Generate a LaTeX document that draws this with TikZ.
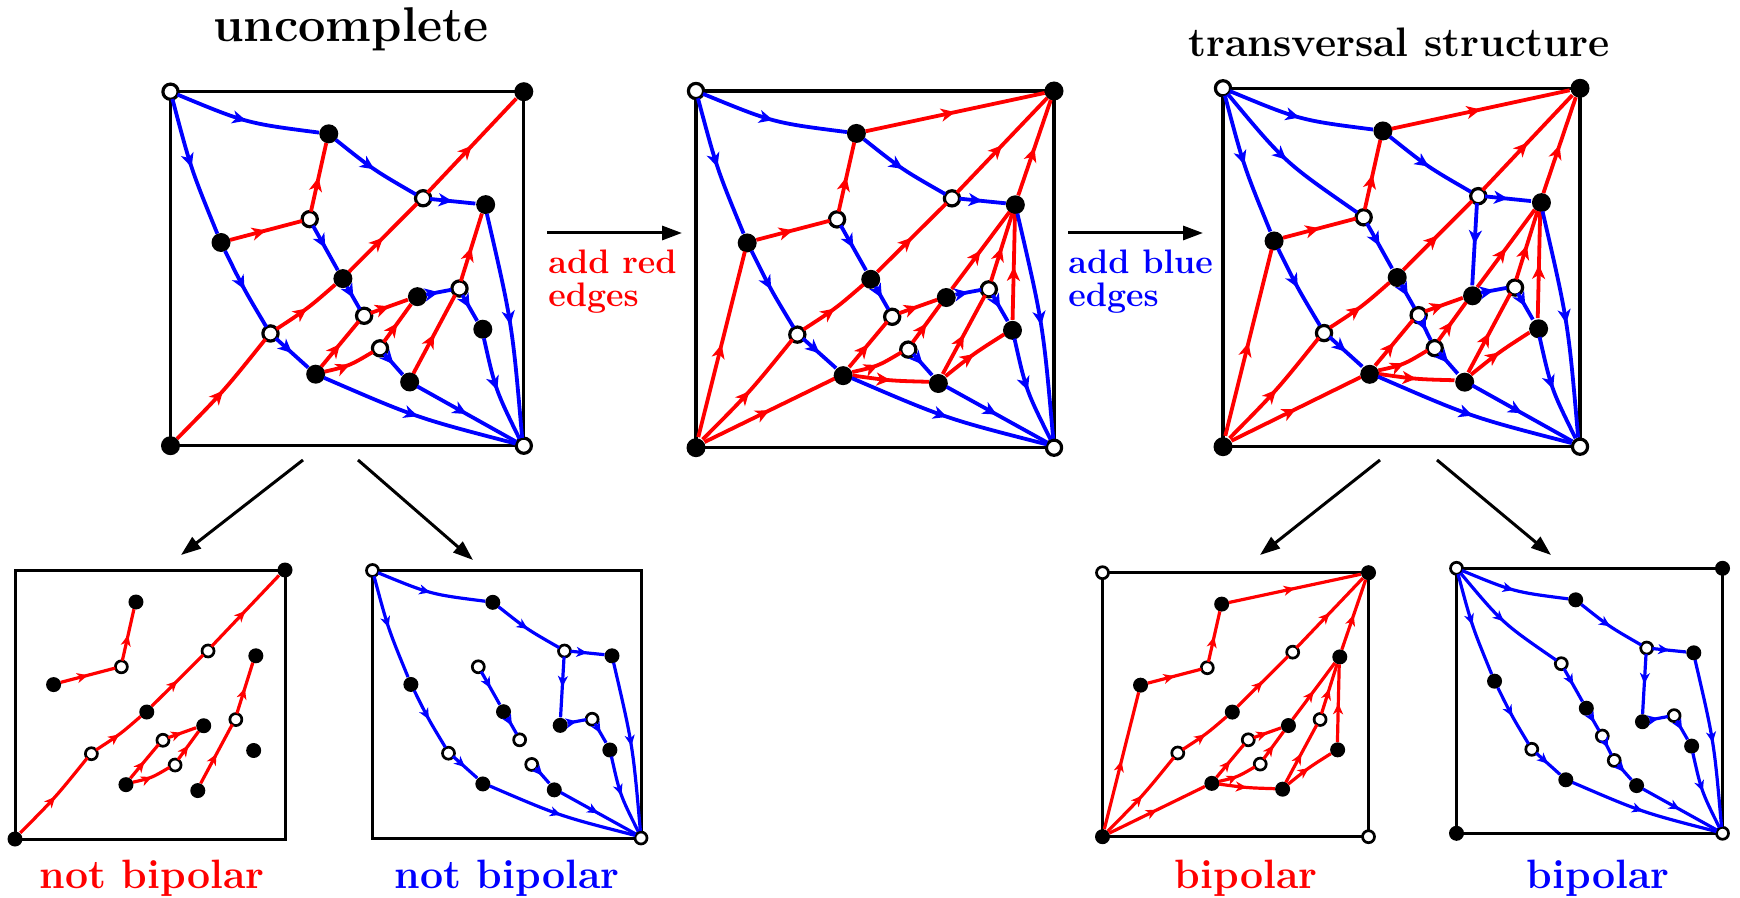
\documentclass[tikz,border=0pt]{standalone}
\usetikzlibrary{arrows.meta,decorations.markings,calc}
\def\ew{1.9pt}\def\arl{7pt}\def\arw{6.5pt}\def\ari{2pt}
\tikzset{
  re/.style={red, line width=\ew, postaction={decorate},
    decoration={markings, mark=at position 0.5 with {\arrow{Stealth[length=\arl,width=\arw,inset=\ari]}}}},
  be/.style={blue, line width=\ew, postaction={decorate},
    decoration={markings, mark=at position 0.5 with {\arrow{Stealth[length=\arl,width=\arw,inset=\ari]}}}},
  bL/.style={circle, fill=black, minimum size=9.5pt, inner sep=0pt, outer sep=0pt},
  wL/.style={circle, draw=black, fill=white, line width=1.6pt, minimum size=7.6pt, inner sep=0pt, outer sep=0pt},
  bS/.style={circle, fill=black, minimum size=7.5pt, inner sep=0pt, outer sep=0pt},
  wS/.style={circle, draw=black, fill=white, line width=1.35pt, minimum size=6pt, inner sep=0pt, outer sep=0pt},
  boxL/.style={draw=black, line width=1.65pt},
  boxS/.style={draw=black, line width=1.5pt},
  bigarr/.style={draw=black, line width=1.5pt, -{Triangle[length=10pt,width=7pt]}},
  lbl/.style={inner sep=0pt, font=\fontsize{20.5}{24}\selectfont\bfseries},
}
\newcommand\rEdge[2]{\draw[re] (#1) -- (#2);}
\newcommand\bEdge[2]{\draw[be] (#1) -- (#2);}
% curved: #1 signed factor (positive bows to the left of travel)
\newcommand\rCurve[3]{\draw[re] (#2) .. controls ($(#2)!0.5!(#3)!#1!90:(#3)$) .. (#3);}
\newcommand\bCurve[3]{\draw[be] (#2) .. controls ($(#2)!0.5!(#3)!#1!90:(#3)$) .. (#3);}
\newcommand\ivs[3]{%
 \node[#2] (#1A) at (0.448,0.119) {};
 \node[#3] (#1B) at (0.715,0.301) {};
 \node[#2] (#1C) at (0.892,0.319) {};
 \node[#3] (#1D) at (0.394,0.360) {};
 \node[#2] (#1E) at (0.143,0.426) {};
 \node[#2] (#1F) at (0.488,0.528) {};
 \node[#2] (#1G) at (0.699,0.579) {};
 \node[#3] (#1H) at (0.818,0.556) {};
 \node[#3] (#1I) at (0.548,0.633) {};
 \node[#2] (#1J) at (0.884,0.671) {};
 \node[#3] (#1K) at (0.283,0.683) {};
 \node[#3] (#1L) at (0.593,0.725) {};
 \node[#2] (#1M) at (0.411,0.798) {};
 \node[#2] (#1N) at (0.677,0.820) {};}
\newcommand\cornerV[3]{%
 \node[#3] (#1TL) at (0,0) {};
 \node[#2] (#1TR) at (1,0) {};
 \node[#2] (#1BL) at (0,1) {};
 \node[#3] (#1BR) at (1,1) {};}
\newcommand\redBase[1]{%
 \rEdge{#1E}{#1D}\rEdge{#1D}{#1A}\rCurve{-0.05}{#1BL}{#1K}\rCurve{-0.065}{#1K}{#1F}%
 \rEdge{#1F}{#1B}\rEdge{#1B}{#1TR}\rEdge{#1M}{#1I}\rEdge{#1I}{#1G}\rCurve{-0.15}{#1M}{#1L}%
 \rEdge{#1L}{#1G}\rEdge{#1N}{#1H}\rEdge{#1H}{#1C}}
\newcommand\redAdd[1]{%
 \rEdge{#1BL}{#1E}\rEdge{#1BL}{#1M}\rEdge{#1A}{#1TR}\rCurve{-0.05}{#1M}{#1N}%
 \rCurve{0.06}{#1N}{#1J}\rEdge{#1J}{#1C}\rEdge{#1G}{#1C}\rEdge{#1C}{#1TR}}
\newcommand\blueBase[1]{%
 \bCurve{-0.133}{#1TL}{#1A}\bCurve{-0.064}{#1TL}{#1E}\bCurve{-0.075}{#1A}{#1B}%
 \bEdge{#1B}{#1C}\bCurve{-0.04}{#1E}{#1K}\bEdge{#1K}{#1M}\bCurve{-0.077}{#1M}{#1BR}%
 \bEdge{#1D}{#1F}\bEdge{#1F}{#1I}\bEdge{#1L}{#1N}\bEdge{#1N}{#1BR}\bEdge{#1G}{#1H}%
 \bEdge{#1H}{#1J}\bCurve{-0.12}{#1J}{#1BR}\bCurve{0.07}{#1C}{#1BR}}
\newcommand\blueAdd[1]{%
 \bCurve{-0.136}{#1TL}{#1D}\bEdge{#1B}{#1G}\bEdge{#1I}{#1L}}
\begin{document}
\begin{tikzpicture}[x=0.5pt,y=-0.5pt]
\useasboundingbox (0,0) rectangle (1740,898);
% titles
\node[anchor=base, inner sep=0pt, font=\fontsize{24.4}{28}\selectfont\bfseries] (t1) at (351,42) {uncomplete};
\node[anchor=base, inner sep=0pt, font=\fontsize{20.6}{24}\selectfont\bfseries] (t2) at (1399,57) {transversal structure};
% panel 1
\begin{scope}[shift={(170.5,91.7)}, xscale=353.3, yscale=354]
 \draw[boxL] (0,0) rectangle (1,1);
 \cornerV{a}{bL}{wL}\ivs{a}{bL}{wL}
 \redBase{a}\blueBase{a}
\end{scope}
% panel 2
\begin{scope}[shift={(696,91)}, xscale=358, yscale=356.7]
 \draw[boxL] (0,0) rectangle (1,1);
 \cornerV{b}{bL}{wL}\ivs{b}{bL}{wL}
 \redBase{b}\redAdd{b}\blueBase{b}
\end{scope}
% panel 3
\begin{scope}[shift={(1223,88.3)}, xscale=357, yscale=358.4]
 \draw[boxL] (0,0) rectangle (1,1);
 \cornerV{c}{bL}{wL}\ivs{c}{bL}{wL}
 \redBase{c}\redAdd{c}\blueBase{c}\blueAdd{c}
\end{scope}
\def\ew{1.6pt}\def\arl{5.5pt}\def\arw{5pt}\def\ari{1.6pt}
% small red not bipolar
\begin{scope}[shift={(15,570)}, xscale=270, yscale=269]
 \draw[boxS] (0,0) rectangle (1,1);
 \node[bS] (dTR) at (1,0) {};
 \node[bS] (dBL) at (0,1) {};
 \ivs{d}{bS}{wS}
 \redBase{d}
\end{scope}
% small blue not bipolar
\begin{scope}[shift={(372.5,570.5)}, xscale=268.5, yscale=267.5]
 \draw[boxS] (0,0) rectangle (1,1);
 \node[wS] (eTL) at (0,0) {};
 \node[wS] (eBR) at (1,1) {};
 \ivs{e}{bS}{wS}
 \blueBase{e}\bEdge{eB}{eG}
\end{scope}
% small red bipolar
\begin{scope}[shift={(1102.5,572.7)}, xscale=266, yscale=264]
 \draw[boxS] (0,0) rectangle (1,1);
 \cornerV{f}{bS}{wS}\ivs{f}{bS}{wS}
 \redBase{f}\redAdd{f}
\end{scope}
% small blue bipolar
\begin{scope}[shift={(1456.5,568.3)}, xscale=266, yscale=265]
 \draw[boxS] (0,0) rectangle (1,1);
 \cornerV{g}{bS}{wS}\ivs{g}{bS}{wS}
 \blueBase{g}\blueAdd{g}
\end{scope}
% arrows
\coordinate (h1s) at (547,233); \coordinate (h1e) at (682,233);
\coordinate (h2s) at (1068,233); \coordinate (h2e) at (1203,233);
\coordinate (d1s) at (303,460); \coordinate (d1e) at (181,555);
\coordinate (d2s) at (358,460); \coordinate (d2e) at (473,560);
\coordinate (d3s) at (1380,460); \coordinate (d3e) at (1260,555);
\coordinate (d4s) at (1437,460); \coordinate (d4e) at (1551,555);
\draw[bigarr] (h1s) -- (h1e);
\draw[bigarr] (h2s) -- (h2e);
\draw[bigarr] (d1s) -- (d1e);
\draw[bigarr] (d2s) -- (d2e);
\draw[bigarr] (d3s) -- (d3e);
\draw[bigarr] (d4s) -- (d4e);
\node[anchor=base west, inner sep=0pt, text=red, font=\fontsize{17}{16}\selectfont\bfseries] (ar1) at (548,274) {add red};
\node[anchor=base west, inner sep=0pt, text=red, font=\fontsize{17}{16}\selectfont\bfseries] (ar2) at (548,307) {edges};
\node[anchor=base west, inner sep=0pt, text=blue, font=\fontsize{17}{16}\selectfont\bfseries] (ab1) at (1068,274) {add blue};
\node[anchor=base west, inner sep=0pt, text=blue, font=\fontsize{17}{16}\selectfont\bfseries] (ab2) at (1068,307) {edges};
% bottom labels
\node[lbl, anchor=base, text=red] (l1) at (152,888) {not bipolar};
\node[lbl, anchor=base, text=blue] (l2) at (507,888) {not bipolar};
\node[lbl, anchor=base, text=red] (l3) at (1246,888) {bipolar};
\node[lbl, anchor=base, text=blue] (l4) at (1598,888) {bipolar};
\end{tikzpicture}
\end{document}
